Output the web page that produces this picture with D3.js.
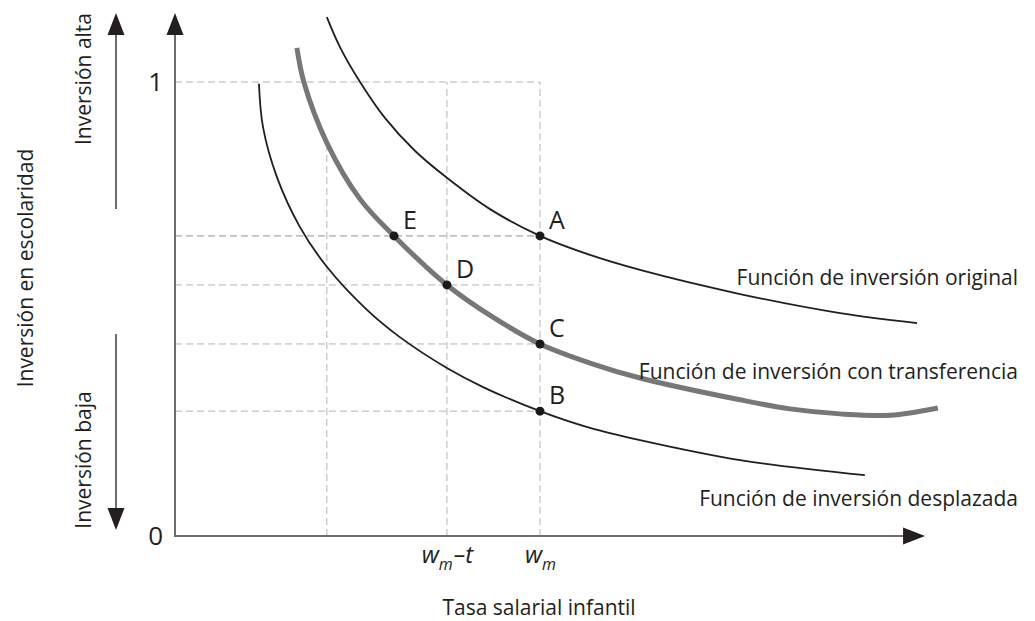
<!DOCTYPE html>
<html lang="es">
<head>
	<meta charset="UTF-8">
	<title>Función de inversión en escolaridad</title>
	<script src="https://cdn.jsdelivr.net/npm/d3@7"></script>
	<style>
		body {
			margin: 0;
			background: #fff;
		}

		svg {
			display: block;
			font-family: "Open Sans", sans-serif;
			fill: #231f20;
		}

		.guide {
			fill: none;
			stroke: #b5b5b5;
			stroke-width: 1px;
			stroke-dasharray: 7, 4;
		}

		.curve {
			fill: none;
		}

		.axis-line {
			stroke: #6d6d6d;
			stroke-width: 2px;
		}

		.arrowhead {
			fill: #231f20;
		}

		.label {
			font-size: 21px;
		}

		.point-label {
			font-size: 25px;
		}
	</style>
</head>
<body>

<script>
	// curves, in units of w_m (x) and investment share (y)
	var curveOriginal = [[0.416, 1.143], [0.452, 1.077], [0.507, 1.0], [0.575, 0.921], [0.658, 0.848],
		[0.745, 0.789], [0.863, 0.720], [1.0, 0.661], [1.137, 0.619], [1.274, 0.586], [1.548, 0.533],
		[1.822, 0.491], [2.033, 0.469]];
	var curveTransfer = [[0.334, 1.075], [0.353, 1.0], [0.416, 0.866], [0.507, 0.742], [0.6, 0.661],
		[0.745, 0.553], [0.871, 0.482], [1.0, 0.423], [1.137, 0.381], [1.274, 0.348], [1.548, 0.300],
		[1.685, 0.280], [1.822, 0.269], [1.959, 0.266], [2.09, 0.282]];
	var curveShifted = [[0.230, 0.996], [0.241, 0.901], [0.279, 0.791], [0.342, 0.681], [0.416, 0.593],
		[0.526, 0.498], [0.616, 0.438], [0.745, 0.370], [0.844, 0.328], [1.0, 0.275], [1.137, 0.238],
		[1.274, 0.211], [1.548, 0.167], [1.890, 0.134]];

	var curveLabels = ["Función de inversión original", "Función de inversión con transferencia",
		"Función de inversión desplazada"];

	var pointNames = ["A", "B", "C", "D", "E"];
	var pointX = [1.0, 1.0, 1.0, 0.745, 0.6];
	var pointY = [0.661, 0.275, 0.423, 0.553, 0.661];

	var yTicks = [0, 1];
	var xTicks = [0.745, 1.0];
	var xTickNames = [["w", "m", "–t"], ["w", "m", ""]];

	var xMax = 2.055, yMax = 1.152;

	var width = 1035, height = 621;

	var x = d3.scaleLinear().domain([0, 1]).range([175, 540]);
	var y = d3.scaleLinear().domain([0, 1]).range([536, 82]);

	var svg = d3.select("body").append("svg")
		.attr("width", width)
		.attr("height", height);

	// dashed guides
	var guides = [];
	guides.push([[0, 1], [1, 1]]);
	guides.push([[1, 0], [1, 1]]);
	guides.push([[0.745, 0], [0.745, 1]]);
	guides.push([[curveTransfer[2][0], 0], curveTransfer[2]]);
	pointY.forEach(function (v) {
		guides.push([[0, v], [1, v]]);
	});

	var straight = d3.line()
		.x(function (d) { return x(d[0]); })
		.y(function (d) { return y(d[1]); });

	svg.append("g").selectAll("path")
		.data(guides)
		.enter().append("path")
		.attr("class", "guide")
		.attr("d", straight);

	// curves
	var smooth = d3.line()
		.x(function (d) { return x(d[0]); })
		.y(function (d) { return y(d[1]); })
		.curve(d3.curveCatmullRom.alpha(0.5));

	var curves = [
		{pts: curveShifted, color: "#1f1f1f", w: 1.8},
		{pts: curveOriginal, color: "#1f1f1f", w: 1.8},
		{pts: curveTransfer, color: "#777777", w: 5}
	];

	svg.append("g").selectAll("path")
		.data(curves)
		.enter().append("path")
		.attr("class", "curve")
		.attr("d", function (d) { return smooth(d.pts); })
		.style("stroke", function (d) { return d.color; })
		.style("stroke-width", function (d) { return d.w; });

	// points
	svg.append("g").selectAll("circle")
		.data(pointNames)
		.enter().append("circle")
		.attr("cx", function (d, i) { return x(pointX[i]); })
		.attr("cy", function (d, i) { return y(pointY[i]); })
		.attr("r", 4.5)
		.style("fill", "#1a1a1a");

	svg.append("g").selectAll("text")
		.data(pointNames)
		.enter().append("text")
		.attr("class", "point-label")
		.attr("x", function (d, i) { return x(pointX[i]) + 9; })
		.attr("y", function (d, i) { return y(pointY[i]) - 7; })
		.text(function (d) { return d; });

	// curve labels
	var labelBase = [285, 379, 506];
	svg.append("g").selectAll("text")
		.data(curveLabels)
		.enter().append("text")
		.attr("class", "label")
		.attr("x", 1018)
		.attr("y", function (d, i) { return labelBase[i]; })
		.attr("text-anchor", "end")
		.text(function (d) { return d; });

	// axes
	function arrow(tx, ty, dir) {
		var l = 22, h = 8.5, p;
		if (dir === "up") p = [[tx, ty], [tx - h, ty + l], [tx + h, ty + l]];
		else if (dir === "down") p = [[tx, ty], [tx - h, ty - l], [tx + h, ty - l]];
		else p = [[tx, ty], [tx - l, ty - h], [tx - l, ty + h]];
		svg.append("path")
			.attr("class", "arrowhead")
			.attr("d", "M" + p.join("L") + "Z");
	}

	svg.append("line").attr("class", "axis-line")
		.attr("x1", x(0)).attr("y1", y(0) + 1)
		.attr("x2", x(0)).attr("y2", y(yMax) + 20);
	arrow(x(0), y(yMax), "up");

	svg.append("line").attr("class", "axis-line")
		.attr("x1", x(0) - 1).attr("y1", y(0))
		.attr("x2", x(xMax) - 20).attr("y2", y(0));
	arrow(x(xMax), y(0), "right");

	// high / low indicators
	svg.append("line").attr("class", "axis-line")
		.attr("x1", 116).attr("y1", 34).attr("x2", 116).attr("y2", 209);
	arrow(116, 13, "up");
	svg.append("line").attr("class", "axis-line")
		.attr("x1", 116).attr("y1", 334).attr("x2", 116).attr("y2", 509);
	arrow(116, 530, "down");

	var yAxis = svg.append("g")
		.attr("transform", "translate(" + x(0) + ",0)")
		.call(d3.axisLeft(y).tickValues(yTicks).tickSize(0).tickPadding(12).tickFormat(d3.format("d")));
	yAxis.select(".domain").remove();
	yAxis.selectAll("text")
		.attr("fill", "#231f20")
		.style("font-family", "Open Sans")
		.style("font-size", "26px");

	var xAxis = svg.append("g")
		.attr("transform", "translate(0," + y(0) + ")")
		.call(d3.axisBottom(x).tickValues(xTicks).tickSize(0).tickPadding(10).tickFormat(""));
	xAxis.select(".domain").remove();
	xAxis.selectAll("text")
		.attr("fill", "#231f20")
		.attr("dy", null)
		.attr("y", 27)
		.style("font-family", "Open Sans")
		.style("font-size", "24px")
		.style("font-style", "italic")
		.each(function (d, i) {
			var t = d3.select(this), parts = xTickNames[i];
			t.append("tspan").text(parts[0]);
			t.append("tspan").attr("dy", 7).style("font-size", "16px").text(parts[1]);
			if (parts[2]) t.append("tspan").attr("dy", -7).attr("dx", 1).text(parts[2]);
		});

	// axis titles
	svg.append("text")
		.attr("class", "label")
		.attr("x", 539)
		.attr("y", 615)
		.attr("text-anchor", "middle")
		.text("Tasa salarial infantil");

	var side = [["Inversión alta", 91, 79], ["Inversión baja", 91, 460], ["Inversión en escolaridad", 33, 268]];
	svg.append("g").selectAll("text")
		.data(side)
		.enter().append("text")
		.attr("class", "label")
		.attr("text-anchor", "middle")
		.attr("transform", function (d) { return "translate(" + d[1] + "," + d[2] + ")rotate(-90)"; })
		.text(function (d) { return d[0]; });
</script>

</body>
</html>
